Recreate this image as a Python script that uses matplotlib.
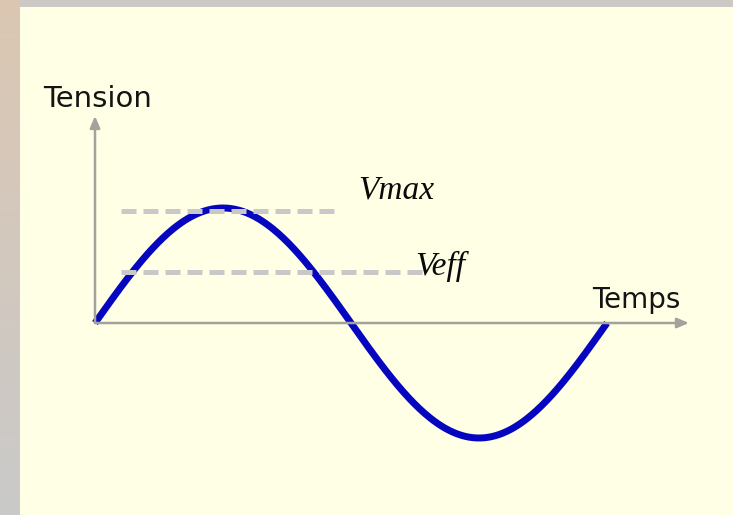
import numpy as np
import matplotlib.pyplot as plt

# one period of the voltage, amplitude normalised to 1
periods = [0.0, 1.0]
amplitude = 1.0
vmax_level = 0.97
veff_level = 0.44
vmax_span = [0.05, 0.48]
veff_span = [0.05, 0.65]
axis_x_end = 1.16
axis_y_end = 1.80
y_label = "Tension"
x_label = "Temps"
vmax_label = "Vmax"
veff_label = "Veff"

cream = "#ffffe6"
grey_axis = "#a3a39c"
grey_dash = "#c8c8c8"
blue = "#0606c0"

fig = plt.figure(figsize=(7.33, 5.15), dpi=100)
fig.patch.set_facecolor(cream)

# frame: grey strip on top, tan->grey strip on the left
bg = fig.add_axes([0, 0, 1, 1])
bg.set_xlim(0, 733)
bg.set_ylim(515, 0)
bg.axis("off")
grad = np.linspace(0, 1, 256)[:, None]
top_col = np.array([0.86, 0.78, 0.70])
bot_col = np.array([0.79, 0.79, 0.79])
strip = top_col + (bot_col - top_col) * grad
bg.imshow(strip[:, None, :].repeat(2, axis=1), extent=(0, 20, 515, 0), aspect="auto")
bg.fill_between([20, 733], 0, 7, color="#ccc9c5", lw=0)

ax = fig.add_axes([0, 0, 1, 1])
ax.patch.set_alpha(0)
ax.axis("off")
ax.set_xlim(-95 / 512, (733 - 95) / 512)
ax.set_ylim(-(515 - 323) / 115, 323 / 115)

arrow = dict(arrowstyle="-|>,head_length=0.7,head_width=0.3", color=grey_axis, lw=1.8,
             shrinkA=0, shrinkB=0)
ax.annotate("", xy=(axis_x_end, 0), xytext=(0, 0), arrowprops=arrow)
ax.annotate("", xy=(0, axis_y_end), xytext=(0, 0), arrowprops=arrow)

t = np.linspace(periods[0], periods[1], 400)
ax.plot(t, amplitude * np.sin(2 * np.pi * t), color=blue, lw=5, solid_capstyle="butt", zorder=2)

ax.plot(vmax_span, [vmax_level, vmax_level], color=grey_dash, lw=3.6, dashes=(3.0, 1.4),
        dash_capstyle="butt", zorder=3)
ax.plot(veff_span, [veff_level, veff_level], color=grey_dash, lw=3.6, dashes=(3.0, 1.4),
        dash_capstyle="butt", zorder=3)

ax.text(-0.102, 1.88, y_label, fontsize=21, family="DejaVu Sans", va="baseline", color="#141414")
ax.text(0.971, 0.13, x_label, fontsize=20, family="DejaVu Sans", va="baseline", color="#141414")
ax.text(0.514, 1.08, vmax_label, fontsize=24, family="Liberation Serif", style="italic",
        va="baseline", color="#0a0a0a")
ax.text(0.625, 0.42, veff_label, fontsize=24, family="Liberation Serif", style="italic",
        va="baseline", color="#0a0a0a")

fig.savefig("out.png", dpi=100, facecolor=fig.get_facecolor())
